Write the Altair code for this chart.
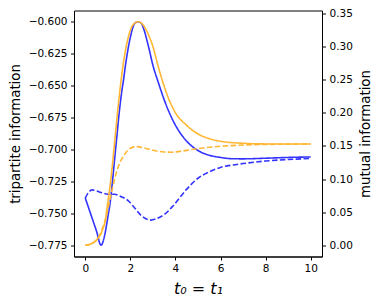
import altair as alt
import pandas as pd

# tripartite information (left axis)
t_tri_solid = [0, 0.25, 0.5, 0.7, 0.85, 1.0, 1.1, 1.2, 1.3, 1.4, 1.5, 1.6, 1.7, 1.8, 1.9, 2.0, 2.1, 2.2, 2.35,
               2.5, 2.6, 2.8, 3.0, 3.25, 3.5, 3.75, 4.0, 4.25, 4.5, 5.0, 5.5, 6.0, 6.5, 7.0, 8.0, 9.0, 10.0]
tri_solid = [-0.738, -0.751, -0.764, -0.775, -0.768, -0.753, -0.742, -0.726, -0.708, -0.690, -0.672, -0.657,
             -0.645, -0.632, -0.621, -0.612, -0.605, -0.601, -0.600, -0.6015, -0.606, -0.619, -0.634, -0.648,
             -0.661, -0.672, -0.681, -0.688, -0.6935, -0.7008, -0.7045, -0.7062, -0.7072, -0.7073, -0.7068,
             -0.7062, -0.7058]

t_tri_dash = [0, 0.15, 0.3, 0.5, 0.75, 1.0, 1.3, 1.6, 1.9, 2.2, 2.5, 2.9, 3.2, 3.5, 3.9, 4.5, 5.0, 5.5, 6.0,
              6.5, 7.0, 8.0, 9.0, 10.0]
tri_dash = [-0.738, -0.7335, -0.7316, -0.7325, -0.734, -0.735, -0.735, -0.737, -0.740, -0.746, -0.752, -0.7553,
            -0.7538, -0.751, -0.744, -0.731, -0.7225, -0.7175, -0.714, -0.7122, -0.711, -0.709, -0.7078, -0.707]

# mutual information (right axis)
t_mut_solid = [0, 0.25, 0.5, 0.75, 0.9, 1.0, 1.1, 1.2, 1.3, 1.4, 1.5, 1.6, 1.75, 1.9, 2.1, 2.35, 2.6, 2.8, 3.0,
               3.25, 3.5, 3.75, 4.0, 4.5, 5.0, 5.5, 6.0, 7.0, 8.0, 10.0]
mut_solid = [0.000, 0.002, 0.008, 0.022, 0.040, 0.065, 0.090, 0.120, 0.155, 0.190, 0.223, 0.252, 0.288, 0.313,
             0.332, 0.3375, 0.331, 0.318, 0.300, 0.268, 0.240, 0.217, 0.200, 0.181, 0.168, 0.161, 0.157, 0.154,
             0.153, 0.153]

t_mut_dash = [0, 0.3, 0.6, 0.9, 1.1, 1.3, 1.5, 1.7, 2.0, 2.3, 2.6, 3.0, 3.5, 3.8, 4.2, 4.8, 5.5, 6.5, 7.5, 8.5, 10.0]
mut_dash = [0.000, 0.003, 0.013, 0.040, 0.070, 0.100, 0.122, 0.135, 0.1465, 0.149, 0.147, 0.1435, 0.1408, 0.1405,
            0.1418, 0.145, 0.148, 0.1505, 0.152, 0.1525, 0.153]

left_ticks = [-0.775, -0.750, -0.725, -0.700, -0.675, -0.650, -0.625, -0.600]
right_ticks = [0.00, 0.05, 0.10, 0.15, 0.20, 0.25, 0.30, 0.35]
x_ticks = [0, 2, 4, 6, 8, 10]

df_tri = pd.concat([
    pd.DataFrame({"t": t_tri_solid, "v": tri_solid, "kind": "solid"}),
    pd.DataFrame({"t": t_tri_dash, "v": tri_dash, "kind": "dashed"}),
])
df_mut = pd.concat([
    pd.DataFrame({"t": t_mut_solid, "v": mut_solid, "kind": "solid"}),
    pd.DataFrame({"t": t_mut_dash, "v": mut_dash, "kind": "dashed"}),
])

FONT = "DejaVu Sans"
dash_scale = alt.Scale(domain=["solid", "dashed"], range=[[1, 0], [5.5, 2.4]])

axis_common = dict(
    domainColor="black", tickColor="black", labelColor="black", titleColor="black",
    tickSize=3.5, labelPadding=3.5, labelFont=FONT, labelFontSize=10.5,
    titleFont=FONT, titleFontWeight="normal", grid=False,
)

x_enc = alt.X(
    "t:Q",
    scale=alt.Scale(domain=[-0.5, 10.5], nice=False, zero=False),
    axis=alt.Axis(values=x_ticks, title="t₀ = t₁", titleFontSize=16, titleFontStyle="italic",
                  titleY=32, titleBaseline="middle", **axis_common),
)

left = alt.Chart(df_tri).mark_line(color="#3333ff", strokeWidth=1.6, interpolate="monotone").encode(
    x=x_enc,
    y=alt.Y("v:Q", scale=alt.Scale(domain=[-0.7838, -0.5911], nice=False, zero=False),
            axis=alt.Axis(orient="left", values=left_ticks, format=".3f", title="tripartite information",
                          titleFontSize=13.3, titleAngle=270, titleX=-59, titleY=123,
                          titleBaseline="middle", **axis_common)),
    strokeDash=alt.StrokeDash("kind:N", scale=dash_scale, legend=None),
    detail="kind:N",
)

right = alt.Chart(df_mut).mark_line(color="#ffb733", strokeWidth=1.6, interpolate="monotone").encode(
    x=x_enc,
    y=alt.Y("v:Q", scale=alt.Scale(domain=[-0.0169, 0.3544], nice=False, zero=False),
            axis=alt.Axis(orient="right", values=right_ticks, format=".2f", title="mutual information",
                          titleFontSize=13.3, titleAngle=270, titleX=43, titleY=123,
                          titleBaseline="middle", **axis_common)),
    strokeDash=alt.StrokeDash("kind:N", scale=dash_scale, legend=None),
    detail="kind:N",
)

chart = alt.layer(left, right).resolve_scale(y="independent", strokeDash="shared").properties(
    width=248, height=246,
    autosize=alt.AutoSizeParams(type="none"),
    padding={"left": 66, "top": 2.5, "right": 50, "bottom": 41},
    background="white",
).configure_view(stroke="black", strokeWidth=1)

chart.save("out.html", embed_options={"renderer": "svg", "actions": False})
